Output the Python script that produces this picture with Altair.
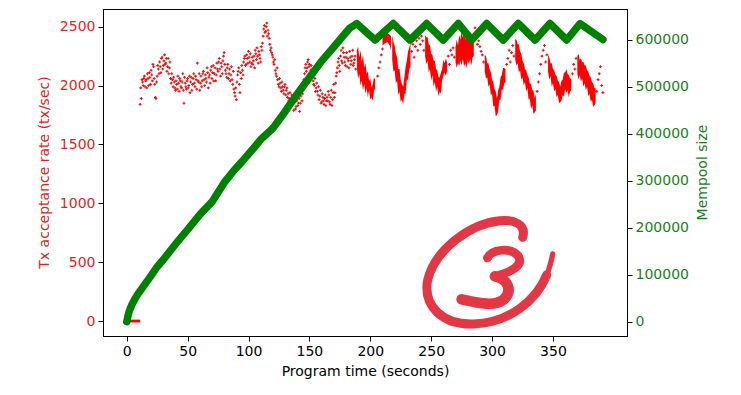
import base64
import altair as alt
import pandas as pd

# ---------------- data ----------------
# Tx acceptance rate: sparse samples, first pass (t = 11, 12, ..., 188)
sparse_start = 11
sparse_rate = [
    1840, 1890, 2030, 2060, 1990, 2050, 2100, 2000, 2070, 2130,
    2040, 2160, 2010, 1890, 2080, 2140, 2200, 2110, 2240, 2170,
    2260, 2190, 2120, 2230, 2150, 2060, 2100, 1990, 2030, 1960,
    2010, 2080, 1950, 2040, 1980, 2100, 1850, 2020, 1970, 2060,
    2000, 1940, 2070, 2010, 2100, 1990, 2050, 2190, 2030, 1960,
    2080, 2040, 2120, 2000, 2060, 2150, 1980, 2090, 2130, 2060,
    2170, 2100, 2040, 2190, 2120, 2230, 2080, 2160, 2210, 2280,
    2130, 2070, 2180, 2100, 2040, 2160, 2010, 1970, 1910, 1880,
    2090, 2150, 1940, 2060, 2130, 2200, 2250, 2180, 2230, 2290,
    2200, 2160, 2240, 2210, 2150, 2270, 2320, 2190, 2260, 2200,
    2300, 2420, 2510, 2460, 2530, 2470, 2400, 2300, 2280, 2240,
    2180, 2130, 2080, 2050, 1990, 2020, 1950, 1990, 1930, 2010,
    1960, 1900, 1870, 1940, 1830, 1880, 1790, 1860, 1820, 1900,
    1850, 1780, 1910, 1870, 1990, 2100, 2180, 2150, 2220, 2180,
    2130, 2070, 2040, 2000, 1950, 2020, 1920, 1880, 1960, 1860,
    1900, 1840, 1920, 1870, 1870, 1920, 1840, 1960, 1880, 2010,
    1940, 2080, 2150, 2230, 2120, 2300, 2190, 2280, 2200, 2240,
    2160, 2210, 2290, 2180, 2250, 2170, 2220, 2140,
]
# second pass, half a second later (t = 11.5, 12.5, ..., 187.5)
sparse_rate_b = [
    1980, 2050, 2000, 2080, 2040, 1980, 2060, 2110, 2010, 2090,
    2180, 2060, 1900, 2030, 2170, 2100, 2160, 2230, 2140, 2210,
    2180, 2230, 2160, 2100, 2200, 2020, 2050, 2070, 1980, 2040,
    1970, 2020, 2060, 1990, 2030, 1960, 2070, 1990, 2040, 1980,
    2080, 2030, 1960, 2060, 2020, 2080, 1970, 2040, 2100, 2020,
    1990, 2100, 2050, 2090, 2030, 2110, 2070, 2020, 2160, 2110,
    2040, 2150, 2090, 2140, 2200, 2140, 2190, 2100, 2250, 2180,
    2100, 2150, 2060, 2140, 2090, 2050, 2120, 1940, 1980, 2030,
    2120, 2010, 2110, 2170, 2090, 2230, 2170, 2260, 2190, 2240,
    2270, 2190, 2180, 2250, 2300, 2220, 2250, 2290, 2230, 2330,
    2360, 2480, 2450, 2500, 2420, 2440, 2350, 2320, 2260, 2200,
    2220, 2100, 2150, 2010, 2060, 1980, 2030, 1960, 1990, 1920,
    1980, 1930, 1890, 1860, 1920, 1850, 1900, 1800, 1870, 1830,
    1890, 1850, 1950, 1930, 2050, 2150, 2120, 2200, 2160, 2100,
    2170, 2090, 2010, 2060, 1980, 1950, 1990, 1910, 1850, 1930,
    1870, 1890, 1830, 1900, 1950, 1860, 1900, 1830, 1940, 1900,
    2020, 2110, 2200, 2170, 2250, 2210, 2320, 2240, 2170, 2280,
    2230, 2150, 2240, 2210, 2300, 2190, 2250,
]

# extra sparse samples between the dense bursts
extra_t = [206, 207, 208, 209, 210,
           234, 235, 236, 237, 238, 239, 240, 241, 242, 243, 244,
           264, 265, 266, 267, 268, 269,
           286, 287, 288, 289, 290, 291, 292, 293,
           312, 313, 314, 315, 316, 317, 318,
           337, 338, 339, 340, 341, 342, 343, 344, 345,
           366, 367, 368, 369,
           386, 387, 388, 389, 390, 391]
extra_rate = [2080, 2150, 2200, 2260, 2310,
              2290, 2350, 2240, 2330, 2380, 2300, 2400, 2350, 2420, 2380, 2300,
              2250, 2180, 2300, 2260, 2320, 2240,
              2490, 2400, 2350, 2380, 2330, 2290, 2260, 2200,
              2180, 2230, 2300, 2200, 2280, 2340, 2250,
              1950, 2030, 2100, 2180, 2250, 2300, 2340, 2200, 2260,
              2100, 2180, 2140, 2230,
              1950, 2050, 2100, 2160, 2000, 1940]

# dense bursts: (segment, time, low edge, high edge)
band_seg = (["s0"] * 2 + ["s1"] * 16 + ["s2"] * 5 + ["s3"] * 16 + ["s4"] * 19
            + ["s5"] * 16 + ["s6"] * 18 + ["s7"] * 18 + ["s8"] * 20 + ["s9"] * 16)
band_t = ([0.5, 11]
          + list(range(189, 205))
          + [210, 212, 214, 216, 217]
          + list(range(218, 234))
          + list(range(245, 264))
          + list(range(270, 286))
          + list(range(294, 312))
          + list(range(319, 337))
          + list(range(346, 366))
          + list(range(370, 386)))
band_lo = ([-12, -12]
           + [2150, 2060, 2100, 2000, 2040, 1960, 2010, 1930, 1980, 1900, 1960, 1880, 1900, 1870, 1950, 1980]
           + [2340, 2360, 2370, 2340, 2300]
           + [2220, 2120, 2130, 2020, 2040, 1920, 1950, 1860, 1880, 1840, 1930, 1930, 2050, 2050, 2140, 2160]
           + [2250, 2180, 2210, 2110, 2140, 2040, 2090, 1990, 2030, 1950, 1990, 1910, 1950, 1930, 2050, 2080, 2110, 2080, 2120]
           + [2200, 2150, 2190, 2170, 2210, 2170, 2230, 2160, 2190, 2150, 2210, 2180, 2230, 2170, 2240, 2250]
           + [2120, 2060, 2070, 1990, 2010, 1920, 1930, 1820, 1830, 1740, 1750, 1780, 1880, 1880, 1970, 1960, 2020, 2030]
           + [2220, 2170, 2190, 2110, 2130, 2050, 2070, 2000, 2030, 1950, 1980, 1880, 1890, 1800, 1830, 1760, 1770, 1790]
           + [2120, 2050, 2080, 1990, 2020, 1950, 1970, 1900, 1920, 1850, 1860, 1870, 1920, 1910, 1970, 1940, 1960, 1900, 1950, 1960]
           + [2100, 2050, 2090, 2030, 2060, 1990, 2020, 1960, 1990, 1910, 1930, 1860, 1880, 1820, 1830, 1850])
band_hi = ([12, 12]
           + [2300, 2330, 2240, 2300, 2200, 2260, 2150, 2190, 2100, 2120, 2040, 2060, 1980, 2010, 2070, 2050]
           + [2400, 2440, 2450, 2430, 2420]
           + [2430, 2370, 2340, 2270, 2240, 2140, 2140, 2050, 2010, 1990, 2070, 2160, 2210, 2290, 2320, 2370]
           + [2430, 2410, 2410, 2350, 2340, 2270, 2260, 2210, 2210, 2140, 2130, 2070, 2070, 2110, 2140, 2220, 2190, 2230, 2200]
           + [2330, 2390, 2340, 2430, 2390, 2460, 2410, 2450, 2390, 2450, 2390, 2440, 2370, 2410, 2410, 2400]
           + [2260, 2250, 2190, 2190, 2140, 2110, 2050, 2030, 1970, 1950, 1890, 1960, 1990, 2070, 2090, 2150, 2150, 2140]
           + [2390, 2390, 2350, 2350, 2290, 2270, 2210, 2190, 2140, 2130, 2090, 2070, 2020, 2010, 1960, 1960, 1890, 1930]
           + [2260, 2240, 2190, 2190, 2140, 2130, 2090, 2080, 2040, 2030, 1990, 2040, 2050, 2110, 2110, 2140, 2100, 2090, 2060, 2060]
           + [2250, 2270, 2220, 2230, 2200, 2200, 2170, 2170, 2130, 2120, 2080, 2070, 2030, 2020, 1980, 1980])

# Mempool size
mem_t = [0, 1, 2, 4, 7, 10, 15, 20, 25, 30, 40, 50, 60, 70, 80, 88, 95, 105, 110,
         120, 128, 140, 150, 160, 170, 178, 183, 188.8,
         203.9, 218.9, 232.6, 246.3, 259.9, 272.3, 283.3, 295.6, 309.2, 321.5,
         335.3, 347.5, 361.3, 372.2, 391]
mem_size = [0, 12000, 22000, 35000, 50000, 62000, 80000, 98000, 117000, 132000,
            165000, 196000, 228000, 255000, 296000, 322000, 342000, 372000, 388000,
            412000, 440000, 485000, 520000, 555000, 585000, 610000, 625000, 635000,
            600000, 635000, 600000, 635000, 600000, 635000, 600000, 635000, 600000,
            635000, 600000, 635000, 600000, 635000, 601000]

x_ticks = [0, 50, 100, 150, 200, 250, 300, 350]
rate_ticks = [0, 500, 1000, 1500, 2000, 2500]
mem_ticks = [0, 100000, 200000, 300000, 400000, 500000, 600000]

# ---------------- frames ----------------
sparse_df = pd.DataFrame({
    "t": list(range(sparse_start, sparse_start + len(sparse_rate)))
         + [sparse_start + 0.5 + i for i in range(len(sparse_rate_b))] + extra_t,
    "rate": sparse_rate + sparse_rate_b + extra_rate,
})
band_df = pd.DataFrame({"seg": band_seg, "t": band_t, "lo": band_lo, "hi": band_hi})
mem_df = pd.DataFrame({"t": mem_t, "size": mem_size})

RED_TXT = "#d62728"
GREEN_TXT = "#1a7f1a"

xscale = alt.Scale(domain=[-19.5, 410.8], nice=False, zero=False)
rate_scale = alt.Scale(domain=[-127, 2650], nice=False, zero=False)
mem_scale = alt.Scale(domain=[-30500, 666000], nice=False, zero=False)

x_enc = alt.X("t:Q", scale=xscale,
              axis=alt.Axis(values=x_ticks, title="Program time (seconds)", labelColor="black",
                            titleColor="black", titlePadding=6))

left_axis = alt.Axis(values=rate_ticks, orient="left", format="d", labelColor=RED_TXT,
                     titleColor=RED_TXT, title="Tx acceptance rate (tx/sec)",
                     titleX=-59, titleY=163, titleBaseline="middle", titleAngle=270)

bands = alt.Chart(band_df).mark_area(color="#ff0000", opacity=1, interpolate="linear").encode(
    x=x_enc,
    y=alt.Y("lo:Q", scale=rate_scale, axis=left_axis),
    y2="hi:Q",
    detail="seg:N",
)
dots = alt.Chart(sparse_df).mark_point(shape="cross", filled=True, size=8, color="#e01818", opacity=1).encode(
    x=alt.X("t:Q", scale=xscale),
    y=alt.Y("rate:Q", scale=rate_scale, axis=left_axis),
)
red = alt.layer(bands, dots)

green = alt.Chart(mem_df).mark_line(color="#008000", strokeWidth=7.5, strokeCap="round",
                                    strokeJoin="round").encode(
    x=alt.X("t:Q", scale=xscale),
    y=alt.Y("size:Q", scale=mem_scale,
            axis=alt.Axis(values=mem_ticks, orient="right", format="d", labelColor=GREEN_TXT,
                          titleColor=GREEN_TXT, title="Mempool size",
                          titleX=75, titleY=163, titleBaseline="middle", titleAngle=270)),
)

# logo watermark (an overlaid picture in the original)
svg = """<svg xmlns="http://www.w3.org/2000/svg" width="250" height="150" viewBox="0 0 750 450">
<g fill="none" stroke="#e23744" stroke-linecap="round" stroke-linejoin="round">
<path stroke-width="27" d="M428 112 C440 72 400 58 360 62 C270 70 165 150 143 240 C128 320 190 375 280 372 C390 368 470 300 500 225"/>
<path stroke-width="16" d="M498 232 C508 205 514 185 518 162"/>
<path stroke-width="26" d="M322 174 C335 148 390 140 415 168 C432 196 395 216 345 229"/>
<path stroke-width="32" d="M345 229 C385 238 398 272 372 298 C345 322 290 308 245 298"/>
</g></svg>"""
logo_url = "data:image/svg+xml;base64," + base64.b64encode(svg.encode()).decode()
logo = alt.Chart(pd.DataFrame({"u": [logo_url]})).mark_image(width=250, height=150).encode(
    x=alt.value(402), y=alt.value(266), url="u:N"
)

chart = alt.layer(red, green, logo).resolve_scale(y="independent").properties(
    width=524, height=327,
    autosize=alt.AutoSizeParams(type="none"),
    padding={"left": 95, "top": 1, "right": 100, "bottom": 45},
    background="white",
).configure_axis(
    labelFont="DejaVu Sans", titleFont="DejaVu Sans", labelFontSize=14, titleFontSize=14,
    titleFontWeight="normal", grid=False, tickColor="black", domainColor="black",
    tickSize=5, labelPadding=3, domainWidth=1, tickWidth=1,
).configure_view(stroke="black", strokeWidth=1)

chart.save("out.html", embed_options={"renderer": "svg", "actions": False})
